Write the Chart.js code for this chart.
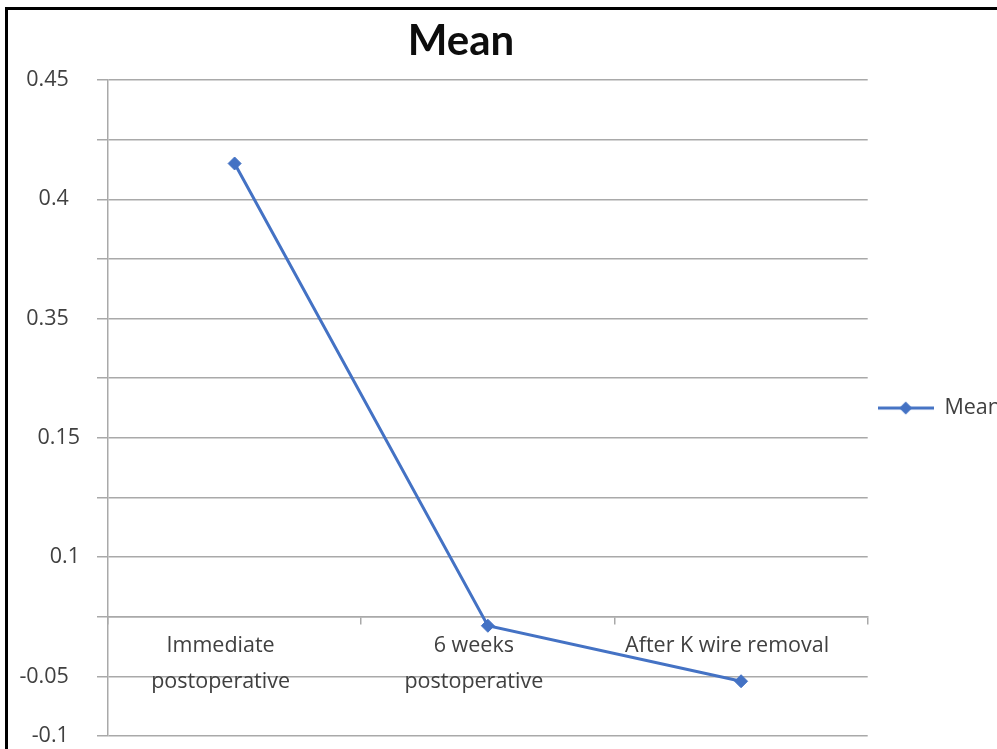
<!DOCTYPE html>
<html>
<head>
<meta charset="utf-8">
<script src="https://cdn.jsdelivr.net/npm/chart.js@4.4.1/dist/chart.umd.min.js"></script>
<style>
  html, body { margin: 0; padding: 0; background: #fff; overflow: hidden; width: 997px; height: 749px; }
  #frame { position: absolute; left: 5px; top: 7px; width: 1200px; height: 1200px;
           border-left: 3px solid #000; border-top: 3px solid #000; }
  #wrap { position: absolute; left: -89px; top: 0; width: 1100px; height: 766px; }
</style>
</head>
<body>
<div id="frame"></div>
<div id="wrap"><canvas id="chart" width="1100" height="766"></canvas></div>
<script>
const categories = [["Immediate", "postoperative"], ["6 weeks", "postoperative"], "After K wire removal"];
const meanValues = [0.38, -0.0075, -0.054];
// labels shown on the y axis, bottom to top (every 0.05 gridline, some left blank)
const yTickLabels = ["-0.1", "-0.05", "", "0.1", "", "0.15", "", "0.35", "", "0.4", "", "0.45"];

const blue = "#4472C4";
const gridGrey = "#a9a9a9";
const textGrey = "#404040";

// line + diamond swatch for the legend
const swatch = document.createElement("canvas");
swatch.width = 56;
swatch.height = 16;
const sctx = swatch.getContext("2d");
sctx.strokeStyle = blue;
sctx.lineWidth = 3;
sctx.beginPath();
sctx.moveTo(0, 8);
sctx.lineTo(56, 8);
sctx.stroke();
sctx.fillStyle = blue;
sctx.beginPath();
sctx.moveTo(28, 1.5);
sctx.lineTo(34.5, 8);
sctx.lineTo(28, 14.5);
sctx.lineTo(21.5, 8);
sctx.closePath();
sctx.fill();

const ctx = document.getElementById("chart").getContext("2d");
new Chart(ctx, {
    type: "line",
    data: {
        labels: categories,
        datasets: [
            {
                label: "Mean",
                data: meanValues,
                borderColor: blue,
                backgroundColor: blue,
                borderWidth: 3,
                pointStyle: "rectRot",
                pointRadius: 6.5,
                pointBorderWidth: 1,
                tension: 0
            }
        ]
    },
    options: {
        responsive: false,
        animation: false,
        devicePixelRatio: 1,
        layout: { padding: { left: 0, right: 0, top: 0, bottom: 3 } },
        plugins: {
            title: {
                display: true,
                text: "Mean",
                color: "#0d0d0d",
                font: { family: "Lato", size: 42, weight: "bold", lineHeight: 1.2 },
                padding: { top: 16, bottom: 13.6 }
            },
            legend: {
                position: "right",
                fullSize: false,
                labels: {
                    usePointStyle: true,
                    pointStyle: swatch,
                    pointStyleWidth: 56,
                    color: textGrey,
                    padding: 10,
                    font: { family: "Open Sans", size: 21.5 }
                }
            },
            tooltip: { enabled: false }
        },
        scales: {
            x: {
                type: "category",
                offset: true,
                position: { y: 0 },
                border: { display: true, color: gridGrey, width: 1.5 },
                grid: { drawOnChartArea: false, drawTicks: true, tickLength: 7, color: gridGrey, lineWidth: 1.5, offset: true },
                ticks: {
                    color: textGrey,
                    maxRotation: 0,
                    autoSkip: false,
                    padding: 5,
                    labelOffset: -14,
                    font: { family: "Open Sans", size: 21.5, lineHeight: 1.63 }
                }
            },
            y: {
                min: -0.1,
                max: 0.45,
                border: { display: true, color: gridGrey, width: 1.5 },
                grid: { color: gridGrey, lineWidth: 1.5, drawTicks: true, tickLength: 11 },
                afterFit: function (scale) { scale.width = 197; },
                ticks: {
                    stepSize: 0.05,
                    color: textGrey,
                    padding: 17,
                    font: { family: "Open Sans", size: 21.5 },
                    callback: function (value, index) {
                        const l = yTickLabels[index];
                        if (l === "" || l === "0.15" || l === "0.1") return l;
                        return l + "  ";
                    }
                }
            }
        }
    }
});
</script>
</body>
</html>
